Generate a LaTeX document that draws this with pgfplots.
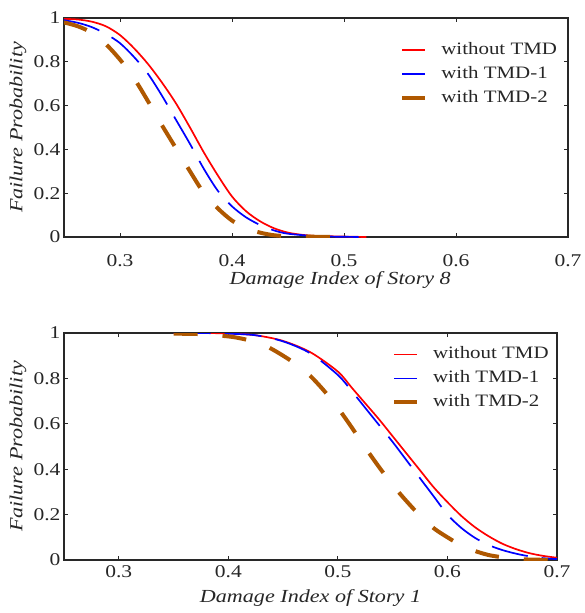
\documentclass[border=0pt]{standalone}
\usepackage{fontspec}
\setmainfont{Liberation Serif}[FakeStretch=1.2]
\usepackage{pgfplots}
\pgfplotsset{compat=1.18}
\definecolor{axgray}{RGB}{40,40,40}
\definecolor{tmdtwo}{RGB}{175,88,0}

\pgfplotsset{
  fragility/.style={
    scale only axis,
    xmin=0.25, xmax=0.7, ymin=0, ymax=1,
    xtick={0.3,0.4,0.5,0.6,0.7},
    ytick={0,0.2,0.4,0.6,0.8,1},
    tick align=inside,
    major tick length=4bp,
    axis line style={axgray, line width=1.2bp},
    every tick/.style={axgray, line width=0.8bp},
    /pgf/number format/assume math mode=true,
    tick label style={font=\fontsize{18}{18}\selectfont, text=black!85},
    label style={font=\fontsize{18.5}{19}\selectfont\itshape, text=black!85},
    legend cell align=left,
    legend style={draw=none, fill=none, inner sep=0pt, row sep=8bp, column sep=14bp,
      font=\fontsize{17.5}{18}\selectfont,
      nodes={inner sep=0pt, text height=12bp, text depth=4bp, text=black!85}},
    legend image code/.code={\draw[##1] (0bp,0bp) -- (23bp,0bp);},
  },
  ser0/.style={red, line width=1.7bp},
  ser1/.style={blue, line width=1.7bp, dash pattern=on 37bp off 14bp},
  ser2/.style={tmdtwo, line width=4bp, dash pattern=on 24bp off 25bp},
}

\begin{document}
\begin{tikzpicture}
\path (0bp,0bp) rectangle (580bp,-613bp);

\begin{axis}[fragility,
  at={(64bp,-18bp)}, anchor=north west,
  width=504bp, height=219bp,
  xticklabel style={yshift=-14bp},
  xlabel={Damage Index of Story 8},
  xlabel style={at={(axis description cs:0.548,0)}, anchor=center, yshift=-43bp},
  ylabel={Failure Probability},
  ylabel style={at={(axis description cs:-0.0913,0.5)}, anchor=center},
  legend style={at={(axis description cs:0.667,0.89)}, anchor=north west},
]
\addplot[ser0, smooth] coordinates {
(0.25,0.996) (0.2625,0.993) (0.275,0.983) (0.2875,0.962) (0.30,0.922)
(0.3125,0.862) (0.325,0.79) (0.3375,0.705) (0.35,0.61) (0.3625,0.50)
(0.375,0.385) (0.3875,0.28) (0.40,0.185) (0.4125,0.118) (0.425,0.072)
(0.4375,0.04) (0.45,0.02) (0.4625,0.01) (0.475,0.005) (0.5,0.002) (0.52,0)
};
\addplot[ser1, smooth] coordinates {
(0.25,0.99) (0.2625,0.978) (0.275,0.958) (0.2875,0.927) (0.30,0.885)
(0.3125,0.822) (0.325,0.745) (0.3375,0.645) (0.35,0.535) (0.3625,0.425)
(0.375,0.31) (0.3875,0.21) (0.40,0.14) (0.4125,0.09) (0.425,0.055)
(0.4375,0.03) (0.45,0.015) (0.475,0.004) (0.5,0.001) (0.52,0)
};
\addplot[ser2, smooth] coordinates {
(0.25,0.98) (0.2625,0.962) (0.275,0.932) (0.2875,0.88) (0.30,0.81)
(0.3125,0.725) (0.325,0.62) (0.3375,0.51) (0.35,0.405) (0.3625,0.30)
(0.375,0.20) (0.3875,0.13) (0.40,0.075) (0.4125,0.04) (0.425,0.02)
(0.4375,0.008) (0.45,0.004) (0.475,0.001) (0.5,0)
};
\legend{without TMD, with TMD-1, with TMD-2}
\end{axis}

\begin{axis}[fragility,
  at={(64bp,-333bp)}, anchor=north west,
  width=493bp, height=227bp,
  xticklabel style={yshift=-2bp},
  xlabel={Damage Index of Story 1},
  xlabel style={at={(axis description cs:0.5,0)}, anchor=center, yshift=-38bp},
  ylabel={Failure Probability},
  ylabel style={at={(axis description cs:-0.0933,0.5)}, anchor=center},
  legend style={at={(axis description cs:0.665,0.942)}, anchor=north west},
]
\addplot[ser0, smooth] coordinates {
(0.35,1.0) (0.375,1.0) (0.40,0.998) (0.425,0.99) (0.45,0.965)
(0.475,0.915) (0.50,0.83) (0.5125,0.76) (0.525,0.69) (0.5375,0.62)
(0.55,0.545) (0.5625,0.47) (0.575,0.395) (0.5875,0.32) (0.60,0.255)
(0.6125,0.195) (0.625,0.145) (0.6375,0.105) (0.65,0.072) (0.6625,0.048)
(0.675,0.03) (0.6875,0.018) (0.70,0.01)
};
\addplot[ser1, smooth] coordinates {
(0.35,1.0) (0.375,1.0) (0.40,0.997) (0.425,0.99) (0.45,0.963)
(0.475,0.91) (0.50,0.815) (0.5125,0.745) (0.525,0.67) (0.5375,0.595)
(0.55,0.52) (0.5625,0.44) (0.575,0.36) (0.5875,0.28) (0.60,0.20)
(0.6125,0.142) (0.625,0.098) (0.6375,0.066) (0.65,0.044) (0.6625,0.028)
(0.675,0.016) (0.6875,0.008) (0.70,0.004)
};
\addplot[ser2, smooth] coordinates {
(0.35,0.997) (0.375,0.995) (0.40,0.985) (0.4125,0.975) (0.425,0.96)
(0.4375,0.935) (0.45,0.90) (0.4625,0.86) (0.475,0.81) (0.4875,0.745)
(0.50,0.67) (0.5125,0.585) (0.525,0.495) (0.5375,0.41) (0.55,0.33)
(0.5625,0.26) (0.575,0.195) (0.5875,0.14) (0.60,0.10) (0.6125,0.065)
(0.625,0.04) (0.6375,0.022) (0.65,0.012) (0.6625,0.005) (0.675,0.002) (0.70,0)
};
\legend{without TMD, with TMD-1, with TMD-2}
\end{axis}
\end{tikzpicture}
\end{document}
